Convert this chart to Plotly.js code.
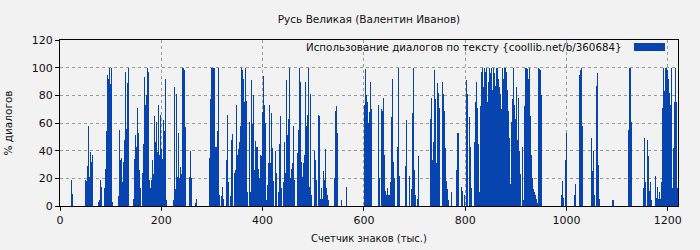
<!DOCTYPE html>
<html>
<head>
<meta charset="utf-8">
<script src="https://cdn.plot.ly/plotly-3.0.1.min.js"></script>
<style>html,body{margin:0;padding:0;background:#f2f2f2;}</style>
</head>
<body>
<div id="chart" style="width:700px;height:250px;"></div>
<script>
// Share of dialogue (%) per ~2 thousand characters of text, left to right
const segA = [0,0,0,0,0,0,0,0,0,0,0, 19,9, 0,0,0,0,0,0,0,0,0,0,0,0, 19,18,29,58,21,39,32,37, 0,0,0,0,0, 3,4,19,14, 0,0, 13,27,54,95,92,100,88,100,3, 0,0,0,0,0, 7,55,33,35];
const segB = [17,32,48,97,56,89,100,0,0,0,0,5,34,51,43,71,53,26,13,0,24,45,93,73,80,100,97,19,13,19,33,23,65,46,61,39,73,37,66,41,34,62,54,92,4, 0,0,0,0,0,0, 4,86,12,81,21,53,20,28,23,100,100];
const segC = [98,57,0,0,0,21,40,20,0,0,0,2,5, 0,0,0,0,0,0,0,0,0,0,0,0, 35,77,100,100,100,100,43,43,54,100,8,0,7,14,5,0,0,33,66,17,0,7,48,52,0,24,26,73,37,41,46,58,100,98,92,75,100];
const segD = [76,10,0,61,10,91,59,80,26,47,43,43,27,20,37,36,68,94,73,60,4,15,31,73,31,67,42,18,0,40,24,0,10,45,65,13,0,17,46,24,91,51,63,100,20,27,31,58,19,0,0,38,55,100,90,32,21,31,37,90,58,66];
const segE = [100,14,81,8,0,0,40,33,19,0,66,65,5,13,5,25,19,41,13,8,4, 0,0,0,0,0, 20,69,72,53,0,0,0,4, 0,0,0,0, 14, 0,0,0,0,0,0,0,0,0,0,0,0,0,0,0,0,0, 73,99,80,75,60,68];
const segF = [90,70, 0,0,0,0,0,0, 73,20,0,70,69,78,37,11,8,13,8,8,17,64,92,32,20,0,0,43,100,22, 0,0,0,0,0, 29,62,0,0,22,0,12,67,100,26,8,0,5,36, 0,0,0,0,0,0,0,0,0,0,0, 63,78];
const segG = [33,46,98,77,31,89,82,71,0,0,90,81,69,42,18,12,4,0,0,10, 0,0,0,0, 26,53,53,0,0,14,11,0,8,0,91,81,0,64,43,13,0,0,46,75,90,71,45,10,72,97,100,86,100,97,100,75,90,100,96,100,84,100];
const segH = [96,87,100,100,92,86,81,70,100,92,100,100,97,84,69,49,16,61,77,100,73,63,86,48,78,40,23,0,43,4,72,100,100,99,92,100,65,37,20,12,10,8,5,2,100,99,98,80, 0,0,0,0,0,0,0,0,0,0,0,0,0,0];
const segI = [0,0,0,0,0, 8,18,6,0,33,53, 0,0,0,0,0,0,0, 8,16, 0,0,0, 95,98,100,58, 0,0,0,0,0,0,0,0, 49,25,40,8,0,87,96,30,5, 0,0,0,0,0,0,0,0,0,0,0,0, 4,4, 0,0,0,0];
const segJ = [0,0,0,0,0,0,0,0,0,0, 55,100,100,61, 0,0,0,0,0,0,0,0,0,0,0, 13,49,17,0,48,36,11,17,4, 0,0,0, 22,6,14,5,10,5,17,71,100,83,100,100,98,92,82,73,100,13,42,75,100,75,13,17,0];

const dialogShare = [].concat(segA, segB, segC, segD, segE, segF, segG, segH, segI, segJ);
const textLengthK = 1220;            // total length, thousands of characters
const step = textLengthK / 618;       // thousands of characters per sample
const position = dialogShare.map((_, i) => (i + 0.5) * step);

const xTicks = [0, 200, 400, 600, 800, 1000, 1200];
const yTicks = [0, 20, 40, 60, 80, 100, 120];

const chartTitle = 'Русь Великая (Валентин Иванов)';
const seriesName = 'Использование диалогов по тексту {coollib.net/b/360684}';
const xTitle = 'Счетчик знаков (тыс.)';
const yTitle = '% диалогов';

const barColor = '#0844b0';
const font = 'DejaVu Sans, sans-serif';
const textColor = '#111';

const trace = {
  type: 'bar',
  x: position,
  y: dialogShare,
  width: step,
  name: seriesName,
  marker: {color: barColor, line: {width: 0}},
  showlegend: false,
  hoverinfo: 'x+y'
};

const layout = {
  width: 700, height: 250,
  paper_bgcolor: '#f2f2f2', plot_bgcolor: '#f2f2f2',
  margin: {l: 60, r: 22, t: 40, b: 44},
  font: {family: font, size: 11, color: textColor},
  bargap: 0,
  title: {text: chartTitle, xref: 'paper', x: 0.5, xanchor: 'center', y: 1 - 19/250, yanchor: 'middle', font: {family: font, size: 10.5, color: textColor}},
  xaxis: {
    range: [0, textLengthK], tickvals: xTicks, ticktext: xTicks.map(String),
    showgrid: true, gridcolor: '#9a9a9a', griddash: '3px,3px', gridwidth: 1,
    zeroline: false, showline: true, mirror: true, linecolor: '#000', linewidth: 1,
    ticks: 'outside', ticklen: 4, tickcolor: '#000',
    tickfont: {family: font, size: 11, color: textColor},
    title: {text: xTitle, font: {family: font, size: 10, color: textColor}, standoff: 8}
  },
  yaxis: {
    range: [0, 120], tickvals: yTicks, ticktext: yTicks.map(String),
    showgrid: true, gridcolor: '#9a9a9a', griddash: '3px,3px', gridwidth: 1,
    zeroline: false, showline: true, mirror: true, linecolor: '#000', linewidth: 1,
    ticks: 'outside', ticklen: 4, tickcolor: '#000',
    tickfont: {family: font, size: 11, color: textColor},
    title: {text: yTitle, font: {family: font, size: 10.5, color: textColor}, standoff: 17}
  },
  annotations: [{
    xref: 'paper', yref: 'paper', x: (624 - 60) / 618, y: (206 - 47) / 166,
    xanchor: 'right', yanchor: 'middle', showarrow: false,
    text: seriesName, font: {family: font, size: 10.3, color: textColor}
  }],
  shapes: [{
    type: 'rect', xref: 'paper', yref: 'paper',
    x0: (634 - 60) / 618, x1: (665 - 60) / 618,
    y0: (206 - 51) / 166, y1: (206 - 43) / 166,
    fillcolor: barColor, line: {width: 0}
  }]
};

Plotly.newPlot('chart', [trace], layout, {staticPlot: true, displayModeBar: false});
</script>
</body>
</html>
